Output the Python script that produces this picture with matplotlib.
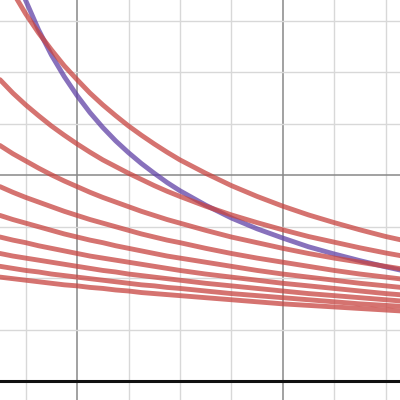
import numpy as np
import matplotlib
matplotlib.use("Agg")
import matplotlib.pyplot as plt

# sample positions along x (grid units); denser on the left where curves bend most
x_vals = [2.5, 2.75, 3.0, 3.25, 3.5, 3.75, 4.0, 4.25, 4.5, 4.75, 5.0, 5.25, 5.5, 5.75, 6.0,
          6.5, 7.0, 7.5, 8.0, 8.5, 9.0, 9.5, 10.0, 10.5]

# purple curve
purple_y = [8.88, 8.07, 7.40, 6.83, 6.34, 5.92, 5.55, 5.22, 4.93, 4.67, 4.44, 4.23, 4.04, 3.86, 3.70,
            3.42, 3.17, 2.96, 2.78, 2.61, 2.47, 2.34, 2.22, 2.11]

# red family, top to bottom
red_1 = [8.02, 7.56, 7.14, 6.77, 6.44, 6.13, 5.86, 5.60, 5.37, 5.16, 4.96, 4.78, 4.61, 4.45, 4.30,
         4.04, 3.80, 3.59, 3.40, 3.23, 3.08, 2.94, 2.81, 2.70]
red_2 = [5.86, 5.60, 5.37, 5.16, 4.96, 4.78, 4.61, 4.45, 4.30, 4.17, 4.04, 3.92, 3.80, 3.69, 3.59,
         3.40, 3.23, 3.08, 2.94, 2.81, 2.70, 2.59, 2.49, 2.40]
red_3 = [4.58, 4.42, 4.28, 4.14, 4.01, 3.89, 3.78, 3.67, 3.57, 3.48, 3.39, 3.30, 3.22, 3.14, 3.07,
         2.93, 2.80, 2.69, 2.58, 2.48, 2.39, 2.31, 2.23, 2.15]
red_4 = [3.78, 3.67, 3.57, 3.48, 3.39, 3.30, 3.22, 3.14, 3.07, 3.00, 2.93, 2.86, 2.80, 2.74, 2.69,
         2.58, 2.48, 2.39, 2.31, 2.23, 2.15, 2.08, 2.02, 1.96]
red_5 = [3.22, 3.14, 3.07, 3.00, 2.93, 2.86, 2.80, 2.74, 2.69, 2.63, 2.58, 2.53, 2.48, 2.43, 2.39,
         2.31, 2.23, 2.15, 2.08, 2.02, 1.96, 1.90, 1.85, 1.80]
red_6 = [2.80, 2.74, 2.69, 2.63, 2.58, 2.53, 2.48, 2.43, 2.39, 2.35, 2.31, 2.27, 2.23, 2.19, 2.15,
         2.08, 2.02, 1.96, 1.90, 1.85, 1.80, 1.75, 1.70, 1.66]
red_7 = [2.48, 2.43, 2.39, 2.35, 2.31, 2.27, 2.23, 2.19, 2.15, 2.12, 2.08, 2.05, 2.02, 1.99, 1.96,
         1.90, 1.85, 1.80, 1.75, 1.70, 1.66, 1.62, 1.58, 1.54]
red_8 = [2.23, 2.19, 2.15, 2.12, 2.08, 2.05, 2.02, 1.99, 1.96, 1.93, 1.90, 1.87, 1.85, 1.82, 1.80,
         1.75, 1.70, 1.66, 1.62, 1.58, 1.54, 1.50, 1.47, 1.44]
red_9 = [2.02, 1.99, 1.96, 1.93, 1.90, 1.87, 1.85, 1.82, 1.80, 1.77, 1.75, 1.72, 1.70, 1.68, 1.66,
         1.62, 1.58, 1.54, 1.50, 1.47, 1.44, 1.41, 1.38, 1.35]

red_curves = [red_1, red_2, red_3, red_4, red_5, red_6, red_7, red_8, red_9]

RED = "#c74440"
PURPLE = "#6042a6"

fig = plt.figure(figsize=(4, 4), dpi=100)
ax = fig.add_axes([0, 0, 1, 1])
ax.set_xlim(2.5, 10.28)
ax.set_ylim(-0.37, 7.41)

# grid: minor every unit, major every 4
ax.set_xticks([4, 8])
ax.set_xticks(np.arange(3, 11), minor=True)
ax.set_yticks([4])
ax.set_yticks(np.arange(1, 8), minor=True)
ax.grid(which="minor", color="#d8d8d8", linewidth=1.0)
ax.grid(which="major", color="#888888", linewidth=1.1)
ax.tick_params(which="both", length=0, labelbottom=False, labelleft=False)
for s in ax.spines.values():
    s.set_visible(False)
ax.axhline(0, color="#111111", linewidth=2.2, zorder=2)

ax.plot(x_vals, purple_y, color=PURPLE, alpha=0.75, linewidth=3.5,
        solid_capstyle="round", solid_joinstyle="round", zorder=3)
for ys in red_curves:
    ax.plot(x_vals, ys, color=RED, alpha=0.75, linewidth=3.5,
            solid_capstyle="round", solid_joinstyle="round", zorder=3)

fig.savefig("out.png", dpi=100)
plt.close(fig)
